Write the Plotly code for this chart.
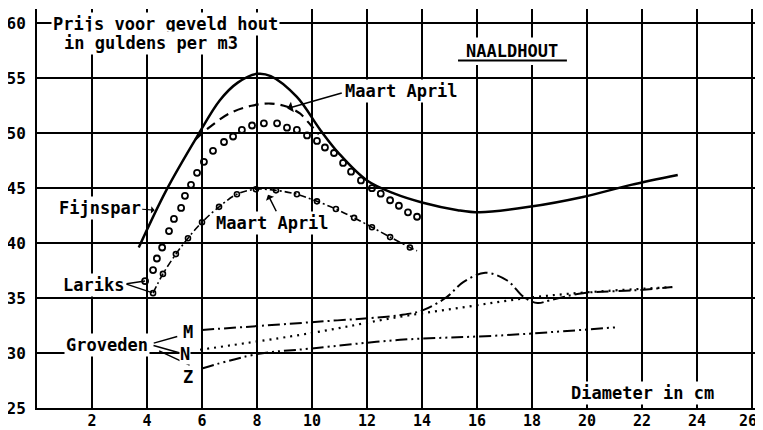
import plotly.graph_objects as go

# ---- data ----
x_ticks = [2, 4, 6, 8, 10, 12, 14, 16, 18, 20, 22, 24, 26]
x_tick_text = ["2", "4", "6", "8", "10", "12", "14", "16", "18", "20", "22", "24", ""]
last_x_tick_label = "26"
y_ticks = [25, 30, 35, 40, 45, 50, 55, 60]

# Fijnspar, Maart April (solid)
fijn_ma_x = [3.7, 4.7, 5.8, 6.65, 7.3, 8.0, 8.5, 9.45, 10.3, 11.0, 12.0, 13.0, 14.0, 15.3, 16.1, 17.9, 19.85, 21.6, 23.3]
fijn_ma_y = [39.6, 44.8, 49.6, 53.0, 54.6, 55.4, 55.2, 53.3, 50.3, 48.1, 45.7, 44.5, 43.7, 43.0, 42.8, 43.3, 44.2, 45.3, 46.2]

# Fijnspar, other period (dashed)
fijn_ot_x = [5.75, 6.15, 7.0, 7.8, 8.5, 9.1, 9.56, 10.0, 10.25]
fijn_ot_y = [49.4, 50.3, 51.8, 52.5, 52.7, 52.4, 51.8, 50.6, 49.9]

# Lariks, other period (open circles)
lar_ot_x = [3.93, 4.22, 4.36, 4.55, 4.8, 4.98, 5.24, 5.38, 5.6, 5.82, 6.07, 6.4, 6.8, 7.13, 7.45,
            7.82, 8.25, 8.73, 9.09, 9.45, 9.82, 10.18, 10.47, 10.8, 11.13, 11.42, 11.78, 12.18,
            12.5, 12.84, 13.16, 13.49, 13.82]
lar_ot_y = [36.55, 37.55, 38.6, 39.6, 41.1, 42.2, 43.2, 44.3, 45.3, 46.4, 47.4, 48.4, 49.2, 49.7, 50.3,
            50.7, 50.9, 50.9, 50.5, 50.3, 49.8, 49.3, 48.7, 48.2, 47.3, 46.5, 45.7, 45.0,
            44.5, 43.9, 43.4, 42.8, 42.4]

# Lariks, Maart April (dash-dot with small circles)
lar_ma_x = [4.22, 4.58, 5.05, 5.49, 6.0, 6.62, 7.27, 7.96, 8.69, 9.45, 10.18, 10.87, 11.53, 12.18, 12.84, 13.56]
lar_ma_y = [35.45, 37.2, 39.0, 40.45, 41.9, 43.3, 44.45, 44.9, 44.8, 44.45, 43.8, 43.1, 42.3, 41.45, 40.55, 39.6]
lar_ma_end_x = [13.56, 13.82]
lar_ma_end_y = [39.6, 39.3]

# Groveden M, N, Z
grov_m_x = [6.0, 9.93, 13.2, 14.04, 14.9, 15.5, 16.3, 17.1, 17.7, 18.2, 18.65, 19.85, 21.7, 23.1]
grov_m_y = [32.1, 32.8, 33.45, 33.9, 35.1, 36.45, 37.3, 36.6, 35.1, 34.55, 34.8, 35.45, 35.7, 36.0]
grov_n_x = [5.93, 9.93, 13.2, 15.6, 17.8, 19.85, 23.1]
grov_n_y = [30.3, 31.8, 33.3, 34.2, 35.0, 35.5, 36.0]
grov_z_x = [6.0, 8.0, 9.93, 13.2, 16.84, 21.1]
grov_z_y = [28.6, 29.9, 30.4, 31.2, 31.6, 32.35]

FONT = "DejaVu Sans Mono"
INK = "black"

fig = go.Figure()
fig.add_trace(go.Scatter(x=fijn_ma_x, y=fijn_ma_y, mode="lines",
                         line=dict(color=INK, width=2.5, shape="spline", smoothing=1)))
fig.add_trace(go.Scatter(x=fijn_ot_x, y=fijn_ot_y, mode="lines",
                         line=dict(color=INK, width=2.2, dash="10px,6px", shape="spline")))
fig.add_trace(go.Scatter(x=lar_ot_x, y=lar_ot_y, mode="markers",
                         marker=dict(symbol="circle-open", size=6, color=INK, line=dict(width=1.8))))
fig.add_trace(go.Scatter(x=lar_ma_x, y=lar_ma_y, mode="lines+markers",
                         line=dict(color=INK, width=1.6, dash="7px,3px,2px,3px", shape="spline"),
                         marker=dict(symbol="circle-open", size=5, color=INK, line=dict(width=1.6))))
fig.add_trace(go.Scatter(x=lar_ma_end_x, y=lar_ma_end_y, mode="lines",
                         line=dict(color=INK, width=1.6, dash="4px,3px")))
fig.add_trace(go.Scatter(x=grov_m_x, y=grov_m_y, mode="lines",
                         line=dict(color=INK, width=2, dash="12px,4px,2px,4px", shape="spline")))
fig.add_trace(go.Scatter(x=grov_n_x, y=grov_n_y, mode="lines",
                         line=dict(color=INK, width=2.2, dash="2px,5px", shape="spline")))
fig.add_trace(go.Scatter(x=grov_z_x, y=grov_z_y, mode="lines",
                         line=dict(color=INK, width=2, dash="12px,4px,2px,4px,2px,4px", shape="spline")))

tf = dict(family=FONT, size=16, color=INK, weight="bold")
xf = dict(family=FONT, size=15, color=INK, weight="bold")
lf = dict(family=FONT, size=17, color=INK, weight="bold")

annotations = [
    dict(x=0.5, y=59.9, text="Prijs voor geveld hout", xanchor="left", yanchor="middle",
         showarrow=False, font=lf, bgcolor="white", borderpad=1),
    dict(x=0.9, y=58.2, text="in guldens per m3", xanchor="left", yanchor="middle",
         showarrow=False, font=lf, bgcolor="white", borderpad=1),
    dict(x=17.27, y=57.45, text="NAALDHOUT", xanchor="center", yanchor="middle",
         showarrow=False, font=dict(family=FONT, size=17, color=INK, weight="bold")),
    dict(x=13.24, y=53.82, text="Maart April", xanchor="center", yanchor="middle",
         showarrow=False, font=lf, bgcolor="white", borderpad=1),
    dict(x=9.1, y=52.25, ax=56, ay=-16, text="", showarrow=True, arrowhead=1, arrowsize=1.2,
         arrowwidth=1.5, arrowcolor=INK),
    dict(x=2.29, y=43.18, text="Fijnspar", xanchor="center", yanchor="middle",
         showarrow=False, font=lf, bgcolor="white", borderpad=1),
    dict(x=4.28, y=43.0, ax=-14, ay=-1, text="", showarrow=True, arrowhead=1, arrowsize=1,
         arrowwidth=1.2, arrowcolor=INK),
    dict(x=8.55, y=41.8, text="Maart April", xanchor="center", yanchor="middle",
         showarrow=False, font=lf, bgcolor="white", borderpad=1),
    dict(x=8.4, y=44.4, ax=9, ay=18, text="", showarrow=True, arrowhead=1, arrowsize=1,
         arrowwidth=1.5, arrowcolor=INK),
    dict(x=2.07, y=36.18, text="Lariks", xanchor="center", yanchor="middle",
         showarrow=False, font=lf, bgcolor="white", borderpad=1),
    dict(x=3.93, y=36.55, ax=-20, ay=3, text="", showarrow=True, arrowhead=0,
         arrowwidth=1.5, arrowcolor=INK),
    dict(x=4.18, y=35.5, ax=-27, ay=-9, text="", showarrow=True, arrowhead=0,
         arrowwidth=1.5, arrowcolor=INK),
    dict(x=2.55, y=30.73, text="Groveden", xanchor="center", yanchor="middle",
         showarrow=False, font=lf, bgcolor="white", borderpad=1),
    dict(x=5.1, y=31.5, ax=-25, ay=7, text="", showarrow=True, arrowhead=0,
         arrowwidth=1.5, arrowcolor=INK),
    dict(x=5.2, y=30.0, ax=-28, ay=-8, text="", showarrow=True, arrowhead=0,
         arrowwidth=1.5, arrowcolor=INK),
    dict(x=5.55, y=28.9, ax=-32, ay=-15, text="", showarrow=True, arrowhead=0,
         arrowwidth=1.5, arrowcolor=INK),
    dict(x=5.49, y=31.9, text="M", showarrow=False, font=lf, bgcolor="white", borderpad=0),
    dict(x=5.38, y=29.9, text="N", showarrow=False, font=lf, bgcolor="white", borderpad=0),
    dict(x=5.49, y=27.8, text="Z", showarrow=False, font=lf, bgcolor="white", borderpad=0),
    dict(x=22.0, y=26.36, text="Diameter in cm", xanchor="center", yanchor="middle",
         showarrow=False, font=lf, bgcolor="white", borderpad=1),
    # last x tick label, kept inside the visible window
    dict(x=x_ticks[-1], y=25, text=last_x_tick_label, xanchor="center", yanchor="top",
         xshift=-4, yshift=-3, showarrow=False, font=xf, borderpad=0),
]

shapes = [
    # white patch behind the NAALDHOUT title (hides the grid there)
    dict(type="rect", x0=15.15, x1=19.45, y0=56.2, y1=58.7, layer="between",
         fillcolor="white", line=dict(width=0)),
    # underline of the title
    dict(type="line", x0=15.31, x1=19.27, y0=56.62, y1=56.62, line=dict(color=INK, width=2)),
]

# the page body keeps an 8px default margin: figure sized/offset to fill the 763x430 window
fig.update_layout(
    width=755, height=422,
    margin=dict(l=29, r=0, t=1, b=22, autoexpand=False),
    paper_bgcolor="white", plot_bgcolor="white",
    showlegend=False,
    annotations=annotations,
    shapes=shapes,
    xaxis=dict(range=[0, 26.4], tickvals=x_ticks, ticktext=x_tick_text,
               showgrid=True, gridcolor=INK, gridwidth=2, zeroline=False,
               showline=True, linecolor=INK, linewidth=2, ticks="",
               tickfont=xf, ticklabelstandoff=-2, ticklabeloverflow="allow", automargin=False),
    yaxis=dict(range=[25, 61.3], tickvals=y_ticks, ticktext=[str(v) for v in y_ticks],
               showgrid=True, gridcolor=INK, gridwidth=2, zeroline=False,
               showline=True, linecolor=INK, linewidth=2, ticks="",
               tickfont=tf, ticklabelstandoff=6, ticklabeloverflow="allow", automargin=False),
)

fig.write_html("out.html")
